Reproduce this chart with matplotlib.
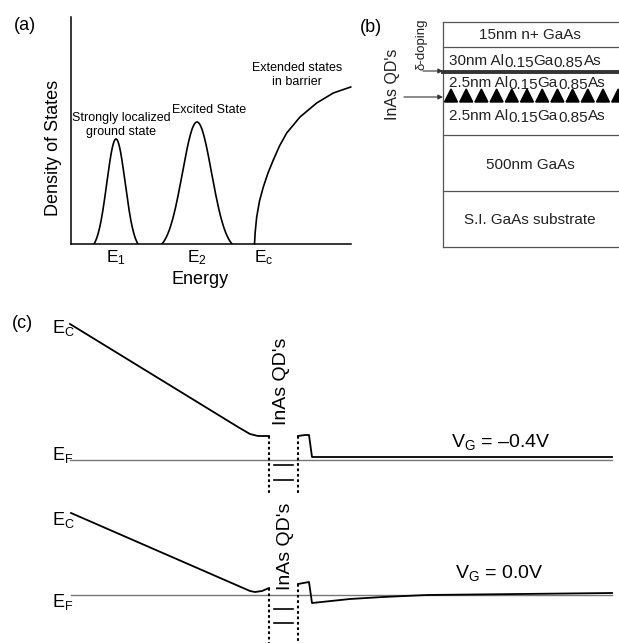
import numpy as np
import matplotlib
matplotlib.use("Agg")
import matplotlib.pyplot as plt
from matplotlib.patches import Polygon, FancyArrowPatch

plt.rcParams['font.family'] = ['Liberation Sans', 'DejaVu Sans']
plt.rcParams['mathtext.fontset'] = 'custom'
plt.rcParams['mathtext.rm'] = 'Liberation Sans'
plt.rcParams['mathtext.it'] = 'Liberation Sans'
plt.rcParams['mathtext.default'] = 'regular'

# ---------------------------- Data ---------------------------- #

# (a) density of states (arbitrary units)
peak_labels = ['E$_1$', 'E$_2$']
peak_centers = [45, 126]
peak_heights = [105, 122]
peak_halfwidths = [22, 35]
peak_notes = ['Strongly localized\nground state', 'Excited State']
edge_label = 'E$_c$'
edge_energy = [183.5, 184.2, 185.7, 188.5, 192.3, 197, 202.3, 208.5, 215.7, 229, 245.7, 262.3, 279.7]
edge_dos = [0, 12, 27, 43, 57, 71, 84, 98, 111, 127, 141, 151, 157]
edge_note = 'Extended states\nin barrier'

# (b) layer stack, top to bottom; True marks the lowered composition digits
layer_texts = [
    [('15nm n+ GaAs', False)],
    [('30nm Al', False), ('0.15', True), ('Ga', False), ('0.85', True), ('As', False)],
    [('2.5nm Al', False), ('0.15', True), ('Ga', False), ('0.85', True), ('As', False)],
    [('2.5nm Al', False), ('0.15', True), ('Ga', False), ('0.85', True), ('As', False)],
    [('500nm GaAs', False)],
    [('S.I. GaAs substrate', False)],
]
n_dots = 12

# (c) conduction band profiles, energy relative to E_F (a.u.)
bias_labels = ['V$_G$ = \u20130.4V', 'V$_G$ = 0.0V']
ec_left_x = [[70, 238, 250, 258, 269],
             [71, 250, 255, 262, 269]]
ec_left_e = [[136, 33, 26, 24, 24],
             [82, 4, 3, 4, 7]]
ec_right_x = [[298, 305, 309, 312, 612],
              [298, 309, 312, 350, 383, 427, 612]]
ec_right_e = [[24, 25, 25, 3, 3],
              [11, 13, -8, -4, -2, 0, 2]]
qd_levels = [[-5, -20], [-14, -28]]
well_edges = [269, 298]

# ---------------------------- Layout helpers ---------------------------- #

W, H = 619, 643


def box(x0, y0, x1, y1):
    return [x0 / W, 1 - y1 / H, (x1 - x0) / W, (y1 - y0) / H]


def fxy(x, y):
    return x / W, 1 - y / H


fig = plt.figure(figsize=(W / 100, H / 100), dpi=100)

# ---------------------------- (a) ---------------------------- #

ax_a = fig.add_axes(box(71, 17, 351, 244))
ax_a.set_xlim(0, 280)
ax_a.set_ylim(0, 227)
for side in ['top', 'right']:
    ax_a.spines[side].set_visible(False)
for side in ['left', 'bottom']:
    ax_a.spines[side].set_linewidth(1.1)
ax_a.set_yticks([])

for c, h, w in zip(peak_centers, peak_heights, peak_halfwidths):
    xs = np.linspace(c - w, c + w, 200)
    s = w / 2.4
    g = np.exp(-(xs - c) ** 2 / (2 * s * s))
    g0 = np.exp(-w * w / (2 * s * s))
    ax_a.plot(xs, h * (g - g0) / (1 - g0), color='black', lw=1.2)
ax_a.plot(edge_energy, edge_dos, color='black', lw=1.2, clip_on=False)

ax_a.set_xticks(peak_centers + [edge_energy[0]], peak_labels + [edge_label], fontsize=12.5)
ax_a.tick_params(axis='x', length=0, pad=3)
ax_a.get_xticklabels()[-1].set_horizontalalignment('left')
ax_a.get_xticklabels()[-1].set_x(edge_energy[0] - 2)

ax_a.text(peak_centers[0] + 5, 119, peak_notes[0], fontsize=9, ha='center', va='center',
          linespacing=1.15)
ax_a.text(peak_centers[1] + 12, 134, peak_notes[1], fontsize=9, ha='center', va='center')
ax_a.text(226, 169, edge_note, fontsize=9, ha='center', va='center', linespacing=1.15)

fig.text(*fxy(200, 279), 'Energy', fontsize=13, ha='center', va='center')
fig.text(*fxy(53, 148), 'Density of States', fontsize=13, ha='center', va='center',
         rotation=90)
fig.text(*fxy(25, 25), '(a)', fontsize=13, ha='center', va='center')

# ---------------------------- (b) ---------------------------- #

ax_b = fig.add_axes(box(443, 22, 619, 247))
ax_b.set_xlim(443, 619)
ax_b.set_ylim(247, 22)
ax_b.axis('off')

edge_col = '#555555'
text_col = '#222222'
for yb in [22, 47, 135, 191, 247]:
    ax_b.plot([443, 619], [yb, yb], color=edge_col, lw=0.9, clip_on=False)
ax_b.plot([443, 443], [22, 247], color=edge_col, lw=0.9, clip_on=False)
ax_b.plot([443, 619], [72, 72], color='#333333', lw=2.8, clip_on=False)

for i in range(n_dots):
    cx = 451 + 15.2 * i
    ax_b.add_patch(Polygon([[cx - 6.5, 102], [cx + 6.5, 102], [cx, 89]], closed=True,
                           color='black', clip_on=False))

row_base = [39, 65, 87, 120, 169, 224]
for pieces, yb in zip(layer_texts, row_base):
    if len(pieces) == 1:
        ax_b.text(530, yb, pieces[0][0], fontsize=11, ha='center', va='baseline',
                  color=text_col)
        continue
    prev = ax_b.text(449, yb, pieces[0][0], fontsize=11, ha='left', va='baseline',
                     color=text_col)
    prev_dy = 0
    for s, low in pieces[1:]:
        this_dy = -1.3 if low else 0
        prev = ax_b.annotate(s, xy=(1, 0), xycoords=prev, xytext=(0, this_dy - prev_dy),
                             textcoords='offset points', fontsize=11,
                             ha='left', va='bottom', color=text_col)
        prev_dy = this_dy

fig.text(*fxy(371, 27), '(b)', fontsize=13, ha='center', va='center')
fig.text(*fxy(422, 44), '\u03b4-doping', fontsize=9.5, ha='center', va='center',
         rotation=90, color=text_col)
fig.text(*fxy(393, 84), "InAs QD's", fontsize=11.5, ha='center', va='center',
         rotation=90, color=text_col)
arrow_kw = dict(arrowstyle='-|>', color='#333333', lw=0.8, mutation_scale=7,
                shrinkA=0, shrinkB=0)
fig.add_artist(FancyArrowPatch(fxy(423, 71), fxy(443, 71),
                               transform=fig.transFigure, **arrow_kw))
fig.add_artist(FancyArrowPatch(fxy(404, 97), fxy(443, 97),
                               transform=fig.transFigure, **arrow_kw))

# ---------------------------- (c) ---------------------------- #

ax_c1 = fig.add_axes(box(0, 305, 619, 500))
ax_c1.set_ylim(-40, 155)
ax_c2 = fig.add_axes(box(0, 500, 619, 643))
ax_c2.set_ylim(-48, 95)
axes_c = [ax_c1, ax_c2]

ec_label_e = [127, 70]
ef_label_e = [0, -12]
qd_text_e = [79, 49]
qd_text_x = [281, 285]
bias_text_x = [501, 499]
bias_text_e = [13, 17]

for k, ax in enumerate(axes_c):
    ax.set_xlim(0, 619)
    ax.axis('off')
    bottom = ax.get_ylim()[0]
    ax.plot([ec_left_x[k][0], ec_right_x[k][-1]], [0, 0], color='#777777', lw=1.0)
    ax.plot(ec_left_x[k], ec_left_e[k], color='black', lw=1.3)
    ax.plot(ec_right_x[k], ec_right_e[k], color='black', lw=1.3)
    ax.plot([well_edges[0]] * 2, [ec_left_e[k][-1], bottom + (5 if k == 0 else 0)],
            color='black', lw=1.5, ls=(0, (1.3, 1.3)), clip_on=False)
    ax.plot([well_edges[1]] * 2, [ec_right_e[k][0], bottom + (5 if k == 0 else 0)],
            color='black', lw=1.5, ls=(0, (1.3, 1.3)), clip_on=False)
    for lv in qd_levels[k]:
        ax.plot([274, 293], [lv, lv], color='black', lw=1.2)
    ax.text(52, ec_label_e[k], 'E$_C$', fontsize=13, ha='left', va='baseline')
    ax.text(52, ef_label_e[k], 'E$_F$', fontsize=13, ha='left', va='baseline')
    ax.text(qd_text_x[k], qd_text_e[k], "InAs QD's", fontsize=14, rotation=90,
            ha='center', va='center')
    ax.text(bias_text_x[k], bias_text_e[k], bias_labels[k], fontsize=14,
            ha='center', va='baseline')

fig.text(*fxy(22, 323), '(c)', fontsize=13, ha='center', va='center')

fig.savefig('out.png', dpi=100)
